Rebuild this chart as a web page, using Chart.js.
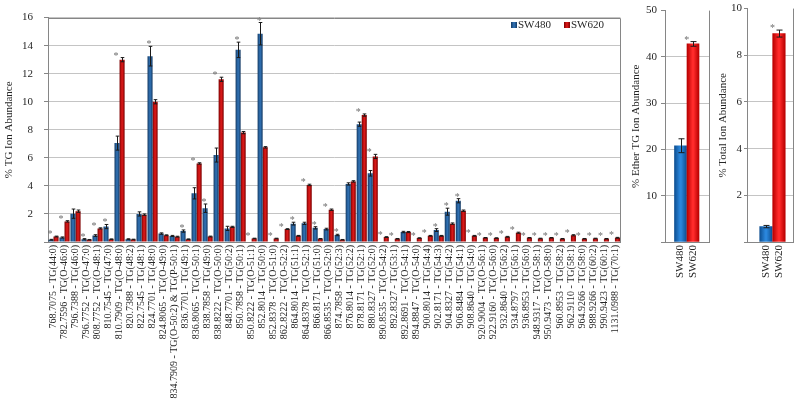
<!DOCTYPE html>
<html><head><meta charset="utf-8">
<script src="https://cdn.jsdelivr.net/npm/chart.js@4.4.1/dist/chart.umd.min.js"></script>
<style>
html,body{margin:0;padding:0;background:#fff;}
#wrap{position:relative;width:800px;height:405px;overflow:hidden;background:#fff;}
canvas{position:absolute;top:0;}
#main{left:0;}
#ether{left:625px;}
#total{left:715px;}
</style></head><body>
<div id="wrap">
<canvas id="main" width="630" height="405"></canvas>
<canvas id="ether" width="90" height="405"></canvas>
<canvas id="total" width="85" height="405"></canvas>
</div>
<script>
// ---------------- data ----------------
const categories = [
"768.7075 - TG(44:0)","782.7596 - TG(O-46:0)","796.7388 - TG(46:0)","796.7752 - TG(O-47:0)",
"808.7752 - TG(O-48:1)","810.7545 - TG(47:0)","810.7909 - TG(O-48:0)","820.7388 - TG(48:2)",
"822.7545 - TG(48:1)","824.7701 - TG(48:0)","824.8065 - TG(O-49:0)","834.7909 - TG(O-50:2) & TG(P-50:1)",
"836.7701 - TG(49:1)","836.8065 - TG(O-50:1)","838.7858 - TG(49:0)","838.8222 - TG(O-50:0)",
"848.7701 - TG(50:2)","850.7858 - TG(50:1)","850.8222 - TG(O-51:1)","852.8014 - TG(50:0)",
"852.8378 - TG(O-51:0)","862.8222 - TG(O-52:2)","864.8014 - TG(51:1)","864.8378 - TG(O-52:1)",
"866.8171 - TG(51:0)","866.8535 - TG(O-52:0)","874.7858 - TG(52:3)","876.8014 - TG(52:2)",
"878.8171 - TG(52:1)","880.8327 - TG(52:0)","890.8535 - TG(O-54:2)","892.8327 - TG(53:1)",
"892.8691 - TG(O-54:1)","894.8847 - TG(O-54:0)","900.8014 - TG(54:4)","902.8171 - TG(54:3)",
"904.8327 - TG(54:2)","906.8484 - TG(54:1)","908.8640 - TG(54:0)","920.9004 - TG(O-56:1)",
"922.9160 - TG(O-56:0)","932.8640 - TG(56:2)","934.8797 - TG(56:1)","936.8953 - TG(56:0)",
"948.9317 - TG(O-58:1)","950.9473 - TG(O-58:0)","960.8953 - TG(58:2)","962.9110 - TG(58:1)",
"964.9266 - TG(58:0)","988.9266 - TG(60:2)","990.9423 - TG(60:1)","1131.0988 - TG(70:1)"
];
const seriesNames = ["SW480", "SW620"];
const sw480 = [0.16,0.32,2.02,0.2,0.46,1.1,7.05,0.2,2.0,13.25,
  0.6,0.43,0.78,3.47,2.41,6.2,0.97,13.7,0,14.85,
  0,0,1.31,1.33,1.01,0.92,0.5,4.14,8.4,4.9,
  0,0,0.71,0,0,0.85,2.16,2.94,0,0,
  0,0,0,0,0,0,0,0,0,0,
  0,0];
const sw620 = [0.39,1.47,2.2,0.16,0.97,0.2,13.0,0.18,1.95,10.0,
  0.48,0.38,0.2,5.6,0.39,11.6,1.08,7.8,0.25,6.75,
  0.25,0.92,0.44,4.07,0.23,2.3,0.16,4.32,9.05,6.1,
  0.35,0.23,0.71,0.28,0.44,0.44,1.31,2.23,0.44,0.3,
  0.28,0.37,0.66,0.3,0.25,0.3,0.23,0.48,0.23,0.25,
  0.23,0.3];
const sw480Err = [0.03,0.04,0.33,0.04,0.06,0.15,0.5,0.03,0.15,0.7,
  0.05,0.04,0.08,0.4,0.3,0.5,0.15,0.55,0,0.8,
  0,0,0.1,0.08,0.08,0.06,0.05,0.08,0.15,0.2,
  0,0,0.05,0,0,0.1,0.25,0.15,0,0,
  0,0,0,0,0,0,0,0,0,0,
  0,0];
const sw620Err = [0.03,0.05,0.08,0.02,0.04,0.02,0.15,0.02,0.05,0.15,
  0.03,0.03,0.02,0.05,0.03,0.15,0.04,0.08,0.02,0.05,
  0.02,0.03,0.03,0.05,0.02,0.05,0.02,0.05,0.08,0.15,
  0.03,0.02,0.04,0.02,0.03,0.03,0.05,0.05,0.03,0.02,
  0.02,0.03,0.04,0.02,0.02,0.02,0.02,0.04,0.02,0.02,
  0.02,0.03];
const significant = [1,1,0,1,1,1,1,0,0,1, 0,0,1,1,1,1,0,1,1,1,
  1,1,1,1,1,1,1,0,1,1, 1,1,0,1,1,1,1,1,1,1,
  1,1,1,1,1,1,1,1,1,1, 1,1];
const mainTicks = [0,2,4,6,8,10,12,14,16];

const etherGroups = ["SW480", "SW620"];
const etherValues = [20.8, 42.8];
const etherErr = [1.5, 0.5];
const etherSignificant = 1;
const etherTicks = [0,10,20,30,40,50];

const totalGroups = ["SW480", "SW620"];
const totalValues = [0.66, 8.93];
const totalErr = [0.05, 0.15];
const totalSignificant = 1;
const totalTicks = [0,2,4,6,8,10];

// ---------------- styles ----------------
const FONT = "'Liberation Serif','Times New Roman',serif";
const TXT = '#262626';
const AXIS = '#868686';
const GRID = '#c4c4c4';
const mainCols = [{edge:'#143a64', mid:'#2f6fb0'}, {edge:'#7d0000', mid:'#d81818'}];
const smallCols = [{edge:'#0d4f92', mid:'#2a86dc'}, {edge:'#b80000', mid:'#ff2a2a'}];

function grad(ctx, x0, x1, c) {
  const g = ctx.createLinearGradient(x0, 0, x1, 0);
  g.addColorStop(0, c.edge); g.addColorStop(0.45, c.mid); g.addColorStop(0.55, c.mid); g.addColorStop(1, c.edge);
  return g;
}

const CAT_PCT = 0.92;
function mainFill(context) {
  const chart = context.chart, ds = context.datasetIndex, c = mainCols[ds];
  const xs = chart.scales.x;
  if (!chart.chartArea || !xs || context.dataIndex === undefined) return c.mid;
  const catW = (chart.chartArea.right - chart.chartArea.left) / categories.length;
  const barW = catW * CAT_PCT / 2;
  const cx = xs.getPixelForValue(context.dataIndex);
  const x0 = ds === 0 ? cx - barW : cx;
  return grad(chart.ctx, x0, x0 + barW, c);
}

function drawErr(ctx, x, yTop, yBot, half) {
  ctx.beginPath();
  ctx.moveTo(x, yTop); ctx.lineTo(x, yBot);
  ctx.moveTo(x - half, yTop); ctx.lineTo(x + half, yTop);
  ctx.moveTo(x - half, yBot); ctx.lineTo(x + half, yBot);
  ctx.stroke();
}
function drawStar(ctx, x, y) {
  ctx.save();
  ctx.fillStyle = '#6e6e6e';
  ctx.font = "10px " + FONT;
  ctx.textAlign = 'center';
  ctx.textBaseline = 'alphabetic';
  ctx.fillText('*', x, y);
  ctx.restore();
}

const mainPlugin = {
  id: 'mainExtras',
  afterDatasetsDraw(chart) {
    const ctx = chart.ctx, ys = chart.scales.y, a = chart.chartArea;
    const errs = [sw480Err, sw620Err];
    const vals = [sw480, sw620];
    ctx.save();
    ctx.strokeStyle = '#1a1a1a'; ctx.lineWidth = 1;
    for (let d = 0; d < 2; d++) {
      const meta = chart.getDatasetMeta(d);
      meta.data.forEach((el, i) => {
        const v = vals[d][i], e = errs[d][i];
        if (!v || !e) return;
        drawErr(ctx, Math.round(el.x) + 0.5, ys.getPixelForValue(v + e), ys.getPixelForValue(Math.max(0, v - e)), 1.8);
      });
    }
    ctx.restore();
    // significance stars
    const m0 = chart.getDatasetMeta(0);
    significant.forEach((s, i) => {
      if (!s) return;
      const top = Math.max(sw480[i] + sw480Err[i], sw620[i] + sw620Err[i]);
      drawStar(ctx, m0.data[i].x - 1, ys.getPixelForValue(top) + 1);
    });
    // frame: top and right
    ctx.save();
    ctx.strokeStyle = AXIS; ctx.lineWidth = 1;
    ctx.beginPath();
    ctx.moveTo(a.left, Math.round(a.top) + 0.5); ctx.lineTo(Math.round(a.right) + 0.5, Math.round(a.top) + 0.5);
    ctx.lineTo(Math.round(a.right) + 0.5, a.bottom);
    ctx.stroke();
    ctx.restore();
  },
  afterDraw(chart) {
    const ctx = chart.ctx;
    const items = [{x: 511, c: mainCols[0]}, {x: 564, c: mainCols[1]}];
    ctx.save();
    ctx.font = "11px " + FONT;
    ctx.textBaseline = 'middle';
    ctx.textAlign = 'left';
    items.forEach((it, k) => {
      ctx.fillStyle = grad(ctx, it.x, it.x + 6, it.c);
      ctx.fillRect(it.x, 22, 6, 6);
      ctx.fillStyle = TXT;
      ctx.fillText(seriesNames[k], it.x + 7, 25.5);
    });
    ctx.restore();
  }
};

new Chart(document.getElementById('main'), {
  type: 'bar',
  data: {
    labels: categories,
    datasets: [
      {label: seriesNames[0], data: sw480, backgroundColor: mainFill, borderWidth: 0},
      {label: seriesNames[1], data: sw620, backgroundColor: mainFill, borderWidth: 0}
    ]
  },
  options: {
    responsive: false, animation: false, devicePixelRatio: 1,
    layout: {padding: {left: 0, right: 8, top: 8, bottom: 0}},
    plugins: {legend: {display: false}, tooltip: {enabled: false}},
    datasets: {bar: {categoryPercentage: CAT_PCT, barPercentage: 1.0}},
    scales: {
      x: {
        grid: {display: false, drawTicks: false},
        border: {display: true, color: AXIS},
        ticks: {autoSkip: false, maxRotation: 90, minRotation: 90, padding: 3,
          font: {family: FONT, size: 10}, color: TXT},
        afterFit: s => { s.height = 163; }
      },
      y: {
        min: 0, max: 16,
        afterBuildTicks: s => { s.ticks = mainTicks.map(v => ({value: v})); },
        ticks: {padding: 11, font: {family: FONT, size: 11}, color: TXT,
          callback: v => v === 0 ? '' : String(v)},
        grid: {color: GRID, tickLength: 4, tickColor: AXIS},
        border: {color: AXIS},
        title: {display: true, text: '% TG Ion Abundance', font: {family: FONT, size: 11}, color: TXT,
          padding: {top: 3, bottom: 0}},
        afterFit: s => { s.width = 48; }
      }
    }
  },
  plugins: [mainPlugin]
});

// ---------------- small panels ----------------
function makeSmall(id, groups, values, errs, sig, ticks, title, cfg) {
  const fill = context => {
    const chart = context.chart, i = context.dataIndex, c = smallCols[i] || smallCols[0];
    const xs = chart.scales.x;
    if (!chart.chartArea || !xs || i === undefined) return c.mid;
    const cx = xs.getPixelForValue(i);
    return grad(chart.ctx, cx - cfg.barW / 2, cx + cfg.barW / 2, c);
  };
  const plugin = {
    id: 'smallExtras',
    afterDatasetsDraw(chart) {
      const ctx = chart.ctx, ys = chart.scales.y, a = chart.chartArea;
      const meta = chart.getDatasetMeta(0);
      ctx.save();
      ctx.strokeStyle = '#1a1a1a'; ctx.lineWidth = 1;
      meta.data.forEach((el, i) => {
        drawErr(ctx, Math.round(el.x) + 0.5, ys.getPixelForValue(values[i] + errs[i]), ys.getPixelForValue(values[i] - errs[i]), 3);
      });
      ctx.restore();
      if (sig) {
        const top = Math.max(...values.map((v, i) => v + errs[i]));
        drawStar(ctx, (meta.data[0].x + meta.data[1].x) / 2, ys.getPixelForValue(top) + 1);
      }
      ctx.save();
      ctx.strokeStyle = AXIS; ctx.lineWidth = 1;
      ctx.beginPath();
      ctx.moveTo(Math.round(a.right) + 0.5, a.top); ctx.lineTo(Math.round(a.right) + 0.5, a.bottom);
      ctx.stroke();
      ctx.restore();
    }
  };
  return new Chart(document.getElementById(id), {
    type: 'bar',
    data: {
      datasets: [{
        label: title,
        data: values.map((v, i) => ({x: i, y: v})),
        backgroundColor: fill, borderWidth: 0, barThickness: cfg.barW
      }]
    },
    options: {
      responsive: false, animation: false, devicePixelRatio: 1,
      layout: {padding: {left: 0, right: cfg.padRight, top: 8, bottom: 0}},
      plugins: {legend: {display: false}, tooltip: {enabled: false}},
      scales: {
        x: {
          type: 'linear', offset: false, min: cfg.xMin, max: cfg.xMax,
          afterBuildTicks: s => { s.ticks = groups.map((g, i) => ({value: i})); },
          grid: {display: false, drawTicks: false},
          border: {display: true, color: AXIS},
          ticks: {autoSkip: false, maxRotation: 90, minRotation: 90, padding: 3,
            font: {family: FONT, size: 11}, color: TXT,
            callback: v => groups[v] !== undefined ? groups[v] : ''},
          afterFit: s => { s.height = 163; }
        },
        y: {
          min: 0, max: ticks[ticks.length - 1],
          afterBuildTicks: s => { s.ticks = ticks.map(v => ({value: v})); },
          ticks: {padding: cfg.tickPad, font: {family: FONT, size: 11}, color: TXT,
            callback: v => v === 0 ? '' : String(v)},
          grid: {color: c => (c.tick && c.tick.value === ticks[ticks.length - 1]) ? 'rgba(0,0,0,0)' : GRID,
            tickLength: cfg.tickLen, tickColor: AXIS},
          border: {color: AXIS},
          title: {display: true, text: title, font: {family: FONT, size: 11}, color: TXT,
            padding: {top: cfg.titlePad, bottom: 0}},
          afterFit: s => { s.width = cfg.yWidth; }
        }
      }
    },
    plugins: [plugin]
  });
}

makeSmall('ether', etherGroups, etherValues, etherErr, etherSignificant, etherTicks,
  '% Ether TG Ion Abundance',
  {barW: 12, xMin: -1.24, xMax: 2.28, padRight: 6, yWidth: 40, tickPad: 4, tickLen: 4, titlePad: 5});
makeSmall('total', totalGroups, totalValues, totalErr, totalSignificant, totalTicks,
  '% Total Ion Abundance',
  {barW: 12.5, xMin: -1.46, xMax: 2.08, padRight: 7, yWidth: 32, tickPad: 2, tickLen: 3, titlePad: 2});
</script>
</body></html>
